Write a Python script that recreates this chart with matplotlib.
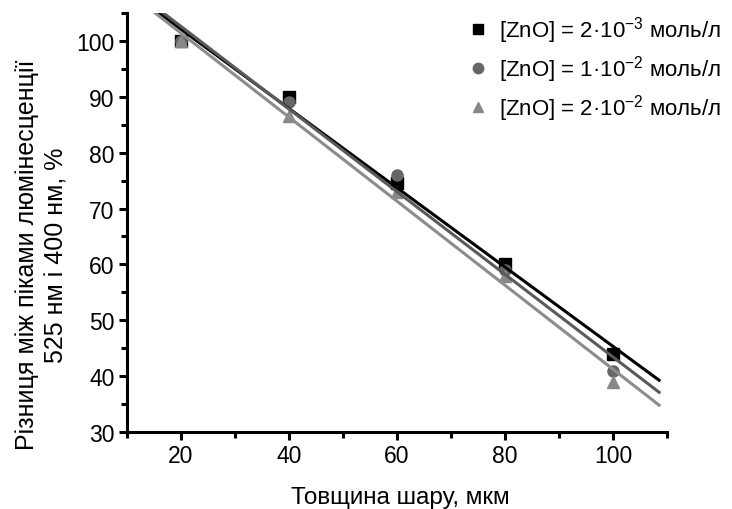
import numpy as np
import matplotlib
matplotlib.use("Agg")
import matplotlib.pyplot as plt
from matplotlib.lines import Line2D
from matplotlib.ticker import MultipleLocator

plt.rcParams['font.family'] = ['Liberation Sans', 'DejaVu Sans']
plt.rcParams['mathtext.fontset'] = 'custom'
plt.rcParams['mathtext.rm'] = 'Liberation Sans'
plt.rcParams['mathtext.default'] = 'rm'

# Data
thickness = [20, 40, 60, 80, 100]
diff_2e3 = [100, 90, 74.5, 60, 44]
diff_1e2 = [100, 89, 76, 59, 41]
diff_2e2 = [100, 86.5, 73, 58, 39]

labels = ['[ZnO] = 2·10$^{-3}$ моль/л',
          '[ZnO] = 1·10$^{-2}$ моль/л',
          '[ZnO] = 2·10$^{-2}$ моль/л']
markers = ['s', 'o', '^']
mcolors = ['#000000', '#666666', '#888888']
lcolors = ['#000000', '#5a5a5a', '#8c8c8c']

fig = plt.figure(figsize=(7.32, 5.10), dpi=100)
ax = fig.add_axes([0.1735, 0.151, 0.738, 0.8215])

x = np.array(thickness)
fit_x = np.array([13.0, 108.5])
handles = []
for ys, m, mc, lc, lab in zip([diff_2e3, diff_1e2, diff_2e2], markers, mcolors, lcolors, labels):
    ax.plot(x, ys, linestyle='none', marker=m, markersize=8, color=mc, zorder=2)
    # linear fit through the points
    k, b = np.polyfit(x, ys, 1)
    ax.plot(fit_x, k * fit_x + b, color=lc, lw=2.2, zorder=3)
    handles.append(Line2D([], [], linestyle='none', marker=m, markersize=7.5, color=mc, label=lab))

ax.set_xlim(10, 110)
ax.set_ylim(30, 105)
ax.xaxis.set_major_locator(MultipleLocator(20))
ax.xaxis.set_minor_locator(MultipleLocator(10))
ax.yaxis.set_major_locator(MultipleLocator(10))
ax.yaxis.set_minor_locator(MultipleLocator(5))
ax.set_xticks([20, 40, 60, 80, 100])

for side in ['top', 'right']:
    ax.spines[side].set_visible(False)
for side in ['left', 'bottom']:
    ax.spines[side].set_linewidth(2.2)
ax.tick_params(which='major', direction='out', length=6, width=2.2, labelsize=16.5, pad=3)
ax.tick_params(which='minor', direction='out', length=4, width=2.2)

ax.set_xlabel('Товщина шару, мкм', fontsize=17.5)
ax.xaxis.set_label_coords(0.506, -0.13)
ax.set_ylabel('Різниця між піками люмінесценції\n525 нм і 400 нм, %', fontsize=18,
              linespacing=1.25)
ax.yaxis.set_label_coords(-0.109, 0.425)

ax.legend(handles=handles, loc='upper left', bbox_to_anchor=(0.607, 1.01),
          bbox_transform=fig.transFigure, frameon=False, fontsize=16,
          handletextpad=0.35, labelspacing=0.38, handlelength=1.2)

fig.savefig('out.png', dpi=100)
